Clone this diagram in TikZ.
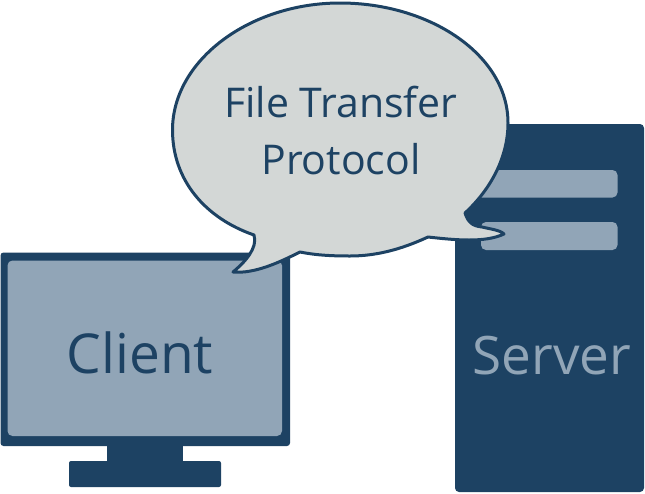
\documentclass[tikz,border=0pt]{standalone}
\usepackage{fontspec}
\setmainfont{Open Sans}
\definecolor{navy}{HTML}{1D4263}
\definecolor{steel}{HTML}{91A5B7}
\definecolor{bubble}{HTML}{D3D7D6}
\tikzset{
  dark/.style={fill=navy,draw=none},
  light/.style={fill=steel,draw=none},
  lbl/.style={inner sep=0pt,align=center}
}
\begin{document}
\begin{tikzpicture}[x=1pt,y=-1pt]
\useasboundingbox (0,0) rectangle (645,493);
% server
\fill[dark,rounded corners=4pt] (455,124) rectangle (644,492);
\fill[light,rounded corners=5pt] (470,170) rectangle (617.5,197.5);
\fill[light,rounded corners=5pt] (481,222) rectangle (617.5,250);
\node[lbl,text=steel,font=\fontsize{53}{56}\selectfont] (server) at (552,356) {Server};
% client
\fill[dark,rounded corners=3pt] (0.5,252.5) rectangle (290,446);
\fill[light,rounded corners=5pt] (7.5,260.5) rectangle (282,436);
\fill[dark] (107,444) rectangle (182.5,463);
\fill[dark,rounded corners=2pt] (69,461) rectangle (221,487);
\node[lbl,text=navy,font=\fontsize{55}{60}\selectfont] (client) at (140,353) {Client};
% bubble
\draw[navy,line width=3pt,fill=bubble,line join=round]
 (254,235) .. controls (205,218) and (172.5,180) .. (172.5,130)
 .. controls (172.5,60) and (250,3) .. (340,3)
 .. controls (430,3) and (508,55) .. (508,123)
 .. controls (508,158) and (490,190) .. (465,213)
 .. controls (468,222) and (472,226) .. (482,227)
 .. controls (490,229) and (500,230) .. (504,234)
 .. controls (485,243) and (455,240) .. (428,237)
 .. controls (400,250) and (375,256) .. (350,256)
 .. controls (330,256) and (315,255) .. (300,252)
 .. controls (280,262) and (255,274) .. (233,272)
 .. controls (245,262) and (258,248) .. (254,235) -- cycle;
\node[lbl,text=navy,font=\fontsize{41}{57}\selectfont] (ftp) at (341,131) {File Transfer\\Protocol};
\end{tikzpicture}
\end{document}
